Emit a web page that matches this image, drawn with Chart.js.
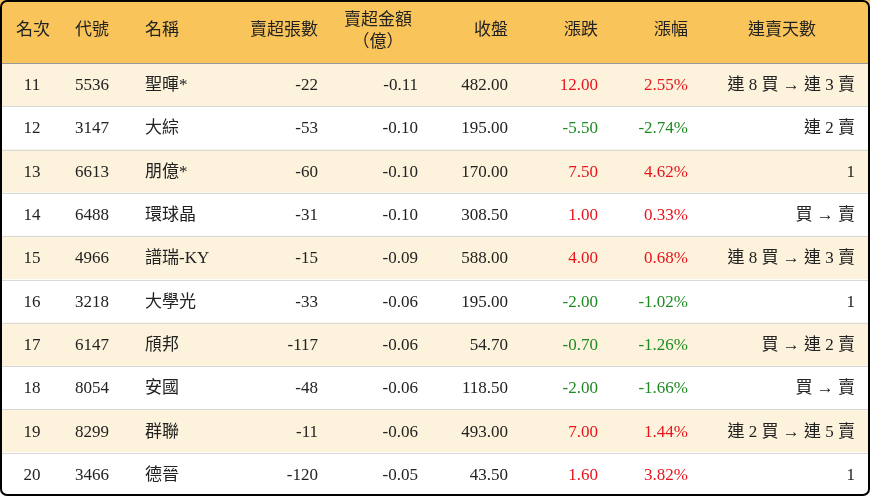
<!DOCTYPE html>
<html>
<head>
<meta charset="utf-8">
<script src="https://cdn.jsdelivr.net/npm/chart.js@4"></script>
<style>
  html, body { margin: 0; padding: 0; background: #fff; }
  #wrap { width: 870px; height: 496px; }
</style>
</head>
<body>
<div id="wrap"><canvas id="tbl"></canvas></div>
<script>
const headers = ['名次', '代號', '名稱', '賣超張數', '賣超金額', '收盤', '漲跌', '漲幅', '連賣天數'];
const ranks = ['11', '12', '13', '14', '15', '16', '17', '18', '19', '20'];
const codes = ['5536', '3147', '6613', '6488', '4966', '3218', '6147', '8054', '8299', '3466'];
const names = ['聖暉*', '大綜', '朋億*', '環球晶', '譜瑞-KY', '大學光', '頎邦', '安國', '群聯', '德晉'];
const netShares = [-22, -53, -60, -31, -15, -33, -117, -48, -11, -120];
const netAmount = [-0.11, -0.10, -0.10, -0.10, -0.09, -0.06, -0.06, -0.06, -0.06, -0.05];
const closePrice = [482.00, 195.00, 170.00, 308.50, 588.00, 195.00, 54.70, 118.50, 493.00, 43.50];
const change = [12.00, -5.50, 7.50, 1.00, 4.00, -2.00, -0.70, -2.00, 7.00, 1.60];
const changePct = [2.55, -2.74, 4.62, 0.33, 0.68, -1.02, -1.26, -1.66, 1.44, 3.82];
const streak = ['連 8 買 → 連 3 賣', '連 2 賣', '1', '買 → 賣', '連 8 買 → 連 3 賣', '1', '買 → 連 2 賣', '買 → 賣', '連 2 買 → 連 5 賣', '1'];

const FONT = '17px "Liberation Serif", "Noto Sans CJK TC", serif';
const HEAD_FONT = '17px "Liberation Serif", "Noto Sans CJK TC", serif';
const RED = '#e8141c', GREEN = '#1f8a23', INK = '#222';
const HEADER_H = 63;

function colorFor(v) { return v > 0 ? RED : v < 0 ? GREEN : INK; }

// column anchors in x-scale units: [x, align]
const cols = [
  [32, 'center'], [75, 'left'], [145, 'left'], [318, 'right'], [418, 'right'],
  [508, 'right'], [598, 'right'], [688, 'right'], [855, 'right']
];

const tablePlugin = {
  id: 'tablePlugin',
  beforeDraw(chart) {
    const { ctx, width } = chart;
    ctx.save();
    ctx.fillStyle = '#fff';
    ctx.fillRect(0, 0, width, chart.height);
    ctx.fillStyle = '#f9c55b';
    ctx.fillRect(0, 0, width, HEADER_H);
    ctx.restore();
  },
  afterDatasetsDraw(chart) {
    const { ctx } = chart;
    const x = chart.scales.x, y = chart.scales.y;
    ctx.save();
    // row separators
    ctx.strokeStyle = '#d8d8d8';
    ctx.lineWidth = 1;
    const step = y.getPixelForValue(1) - y.getPixelForValue(0);
    ranks.forEach((r, i) => {
      const yb = y.getPixelForValue(i) + step / 2;
      ctx.beginPath(); ctx.moveTo(0, Math.round(yb) + 0.5); ctx.lineTo(chart.width, Math.round(yb) + 0.5); ctx.stroke();
    });
    ctx.strokeStyle = '#999';
    ctx.beginPath(); ctx.moveTo(0, HEADER_H + 0.5); ctx.lineTo(chart.width, HEADER_H + 0.5); ctx.stroke();

    // header
    ctx.font = HEAD_FONT;
    ctx.fillStyle = '#222';
    ctx.textBaseline = 'middle';
    const hdrPos = [[33, 'center'], [75, 'left'], [145, 'left'], [318, 'right'], [378, 'center'],
                    [508, 'right'], [598, 'right'], [688, 'right'], [782, 'center']];
    headers.forEach((h, j) => {
      ctx.textAlign = hdrPos[j][1];
      const px = x.getPixelForValue(hdrPos[j][0]);
      if (j === 4) {
        ctx.fillText(h, px, 21);
        ctx.fillText('（億）', px, 43);
      } else {
        ctx.fillText(h, px, 31);
      }
    });

    // body
    ctx.font = FONT;
    ranks.forEach((r, i) => {
      const py = y.getPixelForValue(i);
      const cells = [
        [r, INK], [codes[i], INK], [names[i], INK],
        [String(netShares[i]), INK], [netAmount[i].toFixed(2), INK],
        [closePrice[i].toFixed(2), INK],
        [change[i].toFixed(2), colorFor(change[i])],
        [changePct[i].toFixed(2) + '%', colorFor(changePct[i])],
        [streak[i], INK]
      ];
      cells.forEach((c, j) => {
        ctx.fillStyle = c[1];
        ctx.textAlign = cols[j][1];
        ctx.fillText(c[0], x.getPixelForValue(cols[j][0]), py + 1);
      });
    });

    // outer border
    ctx.strokeStyle = '#000';
    ctx.lineWidth = 2;
    ctx.beginPath();
    ctx.roundRect(1, 1, chart.width - 2, chart.height - 2, 6);
    ctx.stroke();
    ctx.restore();
  }
};

new Chart(document.getElementById('tbl'), {
  type: 'bar',
  data: {
    labels: ranks,
    datasets: [{
      data: ranks.map(() => [0, 870]),
      backgroundColor: ranks.map((r, i) => i % 2 === 0 ? '#fdf3dc' : '#ffffff'),
      barPercentage: 1,
      categoryPercentage: 1,
      borderWidth: 0
    }]
  },
  options: {
    indexAxis: 'y',
    responsive: true,
    maintainAspectRatio: false,
    animation: false,
    layout: { padding: { top: HEADER_H, left: 0, right: 0, bottom: 0 } },
    plugins: { legend: { display: false }, tooltip: { enabled: false } },
    scales: {
      x: { type: 'linear', min: 0, max: 870, display: false },
      y: { type: 'category', display: false, offset: true }
    }
  },
  plugins: [tablePlugin]
});
</script>
</body>
</html>
